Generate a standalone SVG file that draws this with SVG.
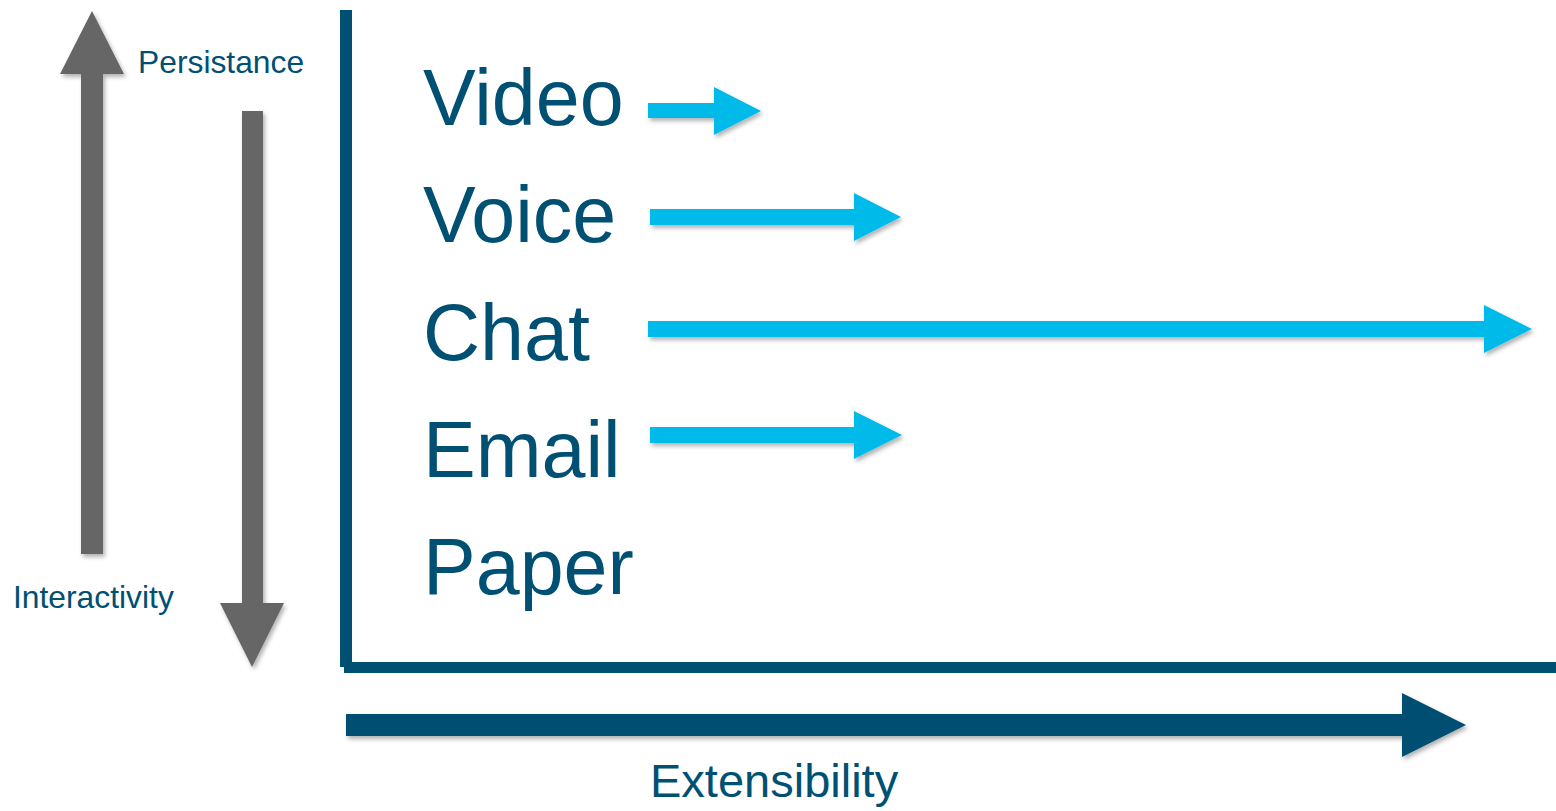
<svg xmlns="http://www.w3.org/2000/svg" width="1556" height="811" viewBox="0 0 1556 811">
  <defs>
    <filter id="sh" x="-10%" y="-30%" width="130%" height="180%">
      <feDropShadow dx="2" dy="3" stdDeviation="2" flood-color="#000" flood-opacity="0.3"/>
    </filter>
  </defs>
  <style>
    text { font-family: "Liberation Sans", Arial, sans-serif; fill: #005073; }
    .big { font-size: 79px; }
    .small { font-size: 31.8px; }
    .gray { fill: #666666; }
    .cyan { fill: #00BBEA; }
    .navy { fill: #005073; }
  </style>
  <rect width="1556" height="811" fill="#ffffff"/>

  <g id="persistance-arrow" filter="url(#sh)">
    <polygon class="gray" points="92,11 124,74 103,74 103,554 81,554 81,74 60,74"/>
  </g>
  <g id="persistance-label"><text class="small" x="138" y="73">Persistance</text></g>

  <g id="interactivity-arrow" filter="url(#sh)">
    <polygon class="gray" points="242,111 263,111 263,603 284,603 252,667 220,603 242,603"/>
  </g>
  <g id="interactivity-label"><text class="small" x="13" y="608">Interactivity</text></g>

  <g id="axes">
    <rect class="navy" x="340" y="10" width="12" height="657"/>
    <rect class="navy" x="344" y="662" width="1212" height="11"/>
  </g>

  <g id="extensibility-arrow" filter="url(#sh)">
    <polygon class="navy" points="346,714 1402,714 1402,693 1466,725 1402,757 1402,736 346,736"/>
  </g>
  <g id="extensibility-label"><text x="650" y="797" font-size="47">Extensibility</text></g>

  <g id="video"><text class="big" x="423" y="125">Video</text></g>
  <g id="voice"><text class="big" x="423" y="242">Voice</text></g>
  <g id="chat"><text class="big" x="423" y="360">Chat</text></g>
  <g id="email"><text class="big" x="423" y="477">Email</text></g>
  <g id="paper"><text class="big" x="423" y="594">Paper</text></g>

  <g id="connectors" filter="url(#sh)">
    <polygon class="cyan" points="648,103 714,103 714,87 761,111 714,135 714,118 648,118"/>
    <polygon class="cyan" points="650,209 854,209 854,193 901,217 854,241 854,225 650,225"/>
    <polygon class="cyan" points="648,321 1484,321 1484,305 1532,329 1484,353 1484,337 648,337"/>
    <polygon class="cyan" points="650,427 854,427 854,411 902,435 854,459 854,443 650,443"/>
  </g>
</svg>
